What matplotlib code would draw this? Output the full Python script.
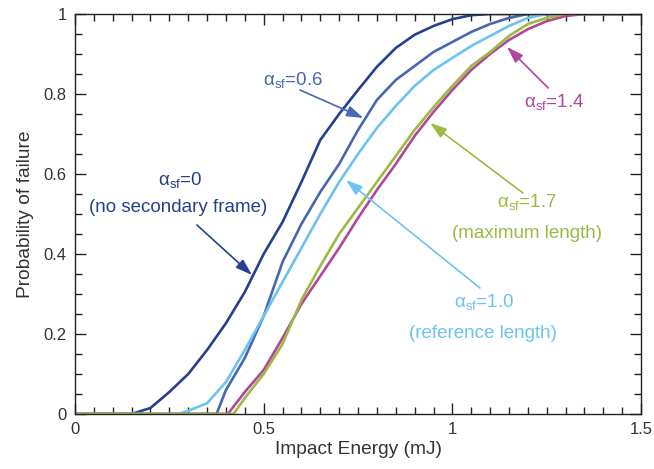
import numpy as np
import matplotlib
matplotlib.use("Agg")
import matplotlib.pyplot as plt
from matplotlib.ticker import MultipleLocator, FormatStrFormatter

plt.rcParams["font.family"] = ["Liberation Sans", "DejaVu Sans"]
plt.rcParams["mathtext.fontset"] = "custom"
plt.rcParams["mathtext.rm"] = "Liberation Sans"
plt.rcParams["mathtext.it"] = "Liberation Sans:italic"

# impact energy (mJ) and probability of failure for each alpha_sf
e_a00 = [0.0, 0.15, 0.2, 0.25, 0.3, 0.35, 0.4, 0.45, 0.5, 0.55, 0.6, 0.65, 0.7,
         0.75, 0.8, 0.85, 0.9, 0.95, 1.0, 1.05, 1.1, 1.5]
p_a00 = [0.0, 0.0, 0.015, 0.055, 0.10, 0.16, 0.227, 0.305, 0.40, 0.48, 0.58,
         0.685, 0.75, 0.81, 0.868, 0.915, 0.948, 0.97, 0.987, 0.997, 1.0, 1.0]

e_a06 = [0.0, 0.375, 0.4, 0.45, 0.5, 0.55, 0.6, 0.65, 0.7, 0.75, 0.8, 0.85,
         0.9, 0.95, 1.0, 1.05, 1.1, 1.15, 1.2, 1.5]
p_a06 = [0.0, 0.0, 0.06, 0.14, 0.245, 0.38, 0.475, 0.555, 0.625, 0.71, 0.785,
         0.835, 0.87, 0.905, 0.93, 0.955, 0.975, 0.99, 1.0, 1.0]

e_a10 = [0.0, 0.275, 0.3, 0.35, 0.4, 0.45, 0.5, 0.55, 0.6, 0.65, 0.7, 0.75,
         0.8, 0.85, 0.9, 0.95, 1.0, 1.05, 1.1, 1.15, 1.2, 1.25, 1.5]
p_a10 = [0.0, 0.0, 0.008, 0.027, 0.08, 0.16, 0.245, 0.33, 0.415, 0.50, 0.58,
         0.65, 0.715, 0.77, 0.82, 0.86, 0.89, 0.92, 0.945, 0.97, 0.99, 1.0, 1.0]

e_a14 = [0.0, 0.405, 0.45, 0.5, 0.55, 0.6, 0.65, 0.7, 0.75, 0.8, 0.85, 0.9,
         0.95, 1.0, 1.05, 1.1, 1.15, 1.2, 1.25, 1.3, 1.35, 1.5]
p_a14 = [0.0, 0.0, 0.055, 0.11, 0.19, 0.275, 0.345, 0.415, 0.49, 0.56, 0.625,
         0.695, 0.755, 0.81, 0.86, 0.9, 0.935, 0.962, 0.982, 0.995, 1.0, 1.0]

e_a17 = [0.0, 0.42, 0.45, 0.5, 0.55, 0.6, 0.65, 0.7, 0.75, 0.8, 0.85, 0.9,
         0.95, 1.0, 1.05, 1.1, 1.15, 1.2, 1.25, 1.3, 1.5]
p_a17 = [0.0, 0.0, 0.04, 0.10, 0.175, 0.285, 0.37, 0.45, 0.515, 0.58, 0.645,
         0.71, 0.767, 0.82, 0.87, 0.905, 0.945, 0.975, 0.99, 1.0, 1.0]

c_a00 = "#26408f"
c_a06 = "#4767b0"
c_a10 = "#6cc3ef"
c_a14 = "#b0479a"
c_a17 = "#9cba43"

fig = plt.figure(figsize=(6.54, 4.69), dpi=100)
ax = fig.add_axes([0.1147, 0.1173, 0.8655, 0.8529])

lw = 1.9
ax.plot(e_a00, p_a00, color=c_a00, lw=lw)
ax.plot(e_a06, p_a06, color=c_a06, lw=lw)
ax.plot(e_a10, p_a10, color=c_a10, lw=lw)
ax.plot(e_a14, p_a14, color=c_a14, lw=lw)
ax.plot(e_a17, p_a17, color=c_a17, lw=lw)

ax.set_xlim(0, 1.5)
ax.set_ylim(0, 1)
ax.xaxis.set_major_locator(MultipleLocator(0.5))
ax.xaxis.set_minor_locator(MultipleLocator(0.05))
ax.yaxis.set_major_locator(MultipleLocator(0.2))
ax.yaxis.set_minor_locator(MultipleLocator(0.05))
ax.xaxis.set_major_formatter(FormatStrFormatter("%g"))
ax.yaxis.set_major_formatter(FormatStrFormatter("%g"))
ax.tick_params(which="both", direction="in", top=True, right=True,
               labelsize=12, colors="#222222", labelcolor="#333333")
ax.tick_params(which="major", length=8, width=1.0, pad=6)
ax.tick_params(which="minor", length=5, width=1.0)
for s in ax.spines.values():
    s.set_linewidth(1.0)
    s.set_color("#222222")

ax.set_xlabel("Impact Energy (mJ)", fontsize=13.8, color="#333333", labelpad=3)
ax.set_ylabel("Probability of failure", fontsize=13.8, color="#333333", labelpad=7)

fs = 13.5
arrow = dict(arrowstyle="-|>,head_length=1.0,head_width=0.33", lw=1.2,
             shrinkA=0, shrinkB=0)

# alpha_sf = 0
ax.text(0.28, 0.585, r"α$_{\rm sf}$=0", color=c_a00, fontsize=fs, ha="center", va="center")
ax.text(0.272, 0.515, "(no secondary frame)", color=c_a00, fontsize=fs, ha="center", va="center")
ax.annotate("", xy=(0.469, 0.3475), xytext=(0.323, 0.4725),
            arrowprops=dict(arrow, color=c_a00))

# alpha_sf = 0.6
ax.text(0.578, 0.835, r"α$_{\rm sf}$=0.6", color=c_a06, fontsize=fs, ha="center", va="center")
ax.annotate("", xy=(0.764, 0.74), xytext=(0.596, 0.81),
            arrowprops=dict(arrow, color=c_a06))

# alpha_sf = 1.0
ax.text(1.085, 0.28, r"α$_{\rm sf}$=1.0", color=c_a10, fontsize=fs, ha="center", va="center")
ax.text(1.082, 0.202, "(reference length)", color=c_a10, fontsize=fs, ha="center", va="center")
ax.annotate("", xy=(0.718, 0.585), xytext=(1.073, 0.315),
            arrowprops=dict(arrow, color=c_a10))

# alpha_sf = 1.7
ax.text(1.197, 0.53, r"α$_{\rm sf}$=1.7", color=c_a17, fontsize=fs, ha="center", va="center")
ax.text(1.198, 0.452, "(maximum length)", color=c_a17, fontsize=fs, ha="center", va="center")
ax.annotate("", xy=(0.941, 0.7275), xytext=(1.187, 0.5525),
            arrowprops=dict(arrow, color=c_a17))

# alpha_sf = 1.4
ax.text(1.27, 0.78, r"α$_{\rm sf}$=1.4", color=c_a14, fontsize=fs, ha="center", va="center")
ax.annotate("", xy=(1.145, 0.9175), xytext=(1.254, 0.815),
            arrowprops=dict(arrow, color=c_a14))

fig.savefig("out.png", dpi=100)
